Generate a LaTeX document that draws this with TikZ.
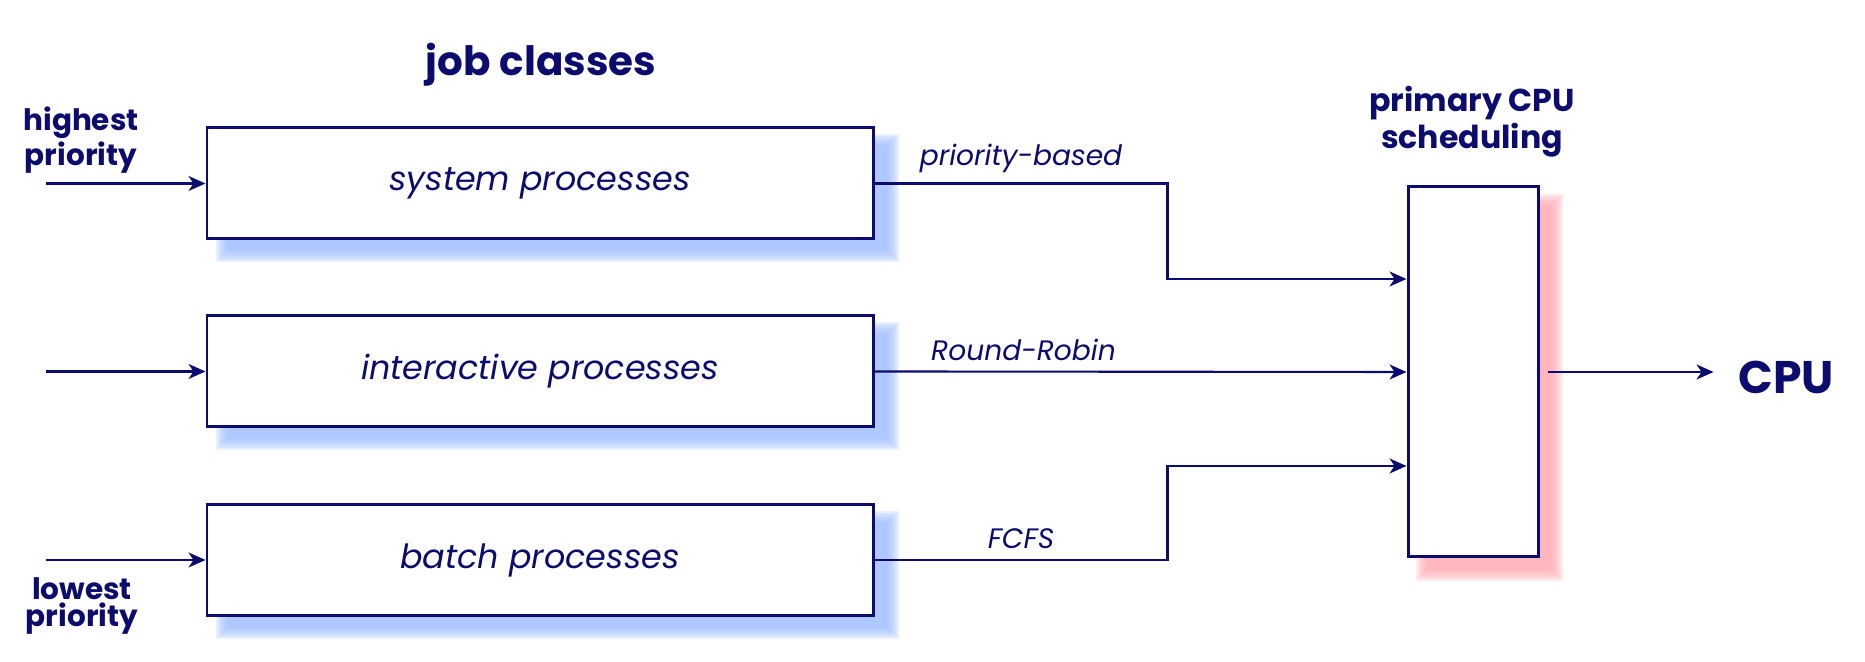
\documentclass[tikz,border=0pt]{standalone}
\usepackage{fontspec}
\setmainfont{Poppins}
\usetikzlibrary{arrows.meta,backgrounds}

\definecolor{navy}{RGB}{12,12,110}
\definecolor{shadowblue}{RGB}{160,190,255}
\definecolor{shadowpink}{RGB}{255,170,178}

\tikzset{
  jobbox/.style={draw=navy, line width=0.85pt, fill=white, text=navy,
    minimum width=6.66cm, minimum height=1.11cm,
    font=\fontsize{9.5}{11}\selectfont\itshape},
  primbox/.style={draw=navy, line width=0.85pt, fill=white,
    minimum width=1.30cm, minimum height=3.70cm},
  headline/.style={text=navy, font=\fontsize{11.5}{13}\selectfont\bfseries},
  prio/.style={text=navy, align=center, inner sep=0pt, font=\fontsize{8.4}{7.7}\selectfont\bfseries},
  primtitle/.style={text=navy, align=center, inner sep=0pt, font=\fontsize{9}{8.5}\selectfont\bfseries},
  cpulabel/.style={text=navy, inner sep=0pt, font=\fontsize{13}{15}\selectfont\bfseries},
  lbl/.style={text=navy, above, inner sep=0.1cm, font=\fontsize{8}{9}\selectfont\itshape},
  flow/.style={draw=navy, line width=0.6pt, -{Stealth[length=0.17cm,width=0.15cm,inset=0.05cm]}},
  softshade/.style={opacity=0.24}
}

\begin{document}
\begin{tikzpicture}
\useasboundingbox (0,0) rectangle (18.65,6.62);
% the three job classes
\node[jobbox] (sys) at (5.40,4.785) {system processes};
\node[jobbox] (inter) at (5.40,2.905) {interactive processes};
\node[jobbox] (batch) at (5.40,1.02) {batch processes};
\node[primbox] (prim) at (14.73,2.90) {};
% soft shadows
\begin{scope}[on background layer]
\foreach \n in {sys,inter,batch}
  \foreach \e in {-0.05,-0.03,-0.01,0.01,0.03,0.05,0.07}
    \fill[shadowblue,softshade] ([shift={(0.17-\e,-0.15-\e)}]\n.south west) rectangle ([shift={(0.17+\e,-0.15+\e)}]\n.north east);
\foreach \e in {-0.05,-0.03,-0.01,0.01,0.03,0.05,0.07}
  \fill[shadowpink,softshade] ([shift={(0.16-\e,-0.16-\e)}]prim.south west) rectangle ([shift={(0.16+\e,-0.16+\e)}]prim.north east);
\end{scope}
% texts
\node[headline] (jobs) at (5.41,5.97) {job classes};
\node[prio] (hi) at (0.81,5.22) {highest\\priority};
\node[prio] (lo) at (0.82,0.56) {lowest\\priority};
\node[primtitle] (ptitle) at (14.72,5.40) {primary CPU\\scheduling};
\node[cpulabel] (cpu) at (17.86,2.85) {CPU};
% free ends
\coordinate (src1) at (0.46,4.785);
\coordinate (src2) at (0.46,2.905);
\coordinate (src3) at (0.46,1.02);
\coordinate (in1) at ([yshift=0.93cm]prim.west);
\coordinate (in2) at (prim.west);
\coordinate (in3) at ([yshift=-0.94cm]prim.west);
% connectors
\draw[flow] (src1) -- (sys.west);
\draw[flow] (src2) -- (inter.west);
\draw[flow] (src3) -- (batch.west);
\draw[flow] (sys.east) -- ++(2.93,0) node[midway,lbl] {priority-based} |- (in1);
\draw[flow] (inter.east) -- node[pos=.28,lbl] {Round-Robin} (in2);
\draw[flow] (batch.east) -- ++(2.93,0) node[midway,lbl] {FCFS} |- (in3);
\draw[flow, shorten <=0.08cm, shorten >=0.24cm] (prim.east) -- (prim.east -| cpu.west);
\end{tikzpicture}
\end{document}
